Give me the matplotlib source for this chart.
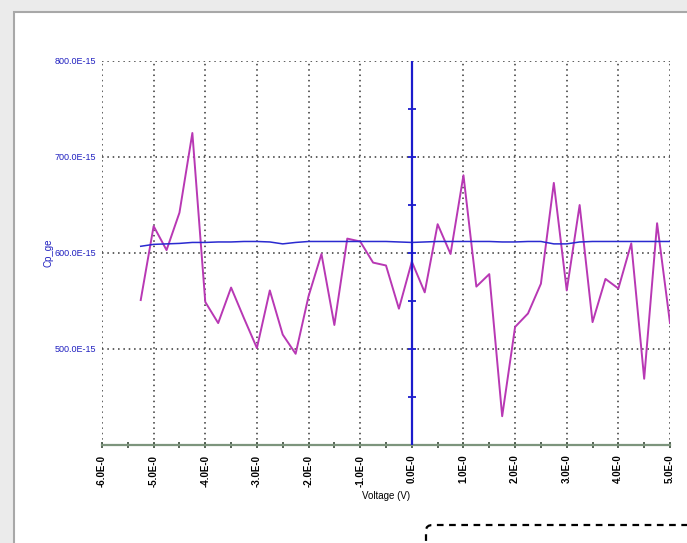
import numpy as np
import matplotlib
matplotlib.use('Agg')
import matplotlib.pyplot as plt
from matplotlib.patches import Rectangle, FancyBboxPatch
from matplotlib.ticker import MultipleLocator, FixedLocator, FuncFormatter

plt.rcParams['font.family'] = ['Liberation Sans', 'DejaVu Sans']

# voltage sweep (V), capacitance in units of 1E-15 F
volt = [-5.25, -5.0, -4.75, -4.5, -4.25, -4.0, -3.75, -3.5, -3.25, -3.0,
        -2.75, -2.5, -2.25, -2.0, -1.75, -1.5, -1.25, -1.0, -0.75, -0.5,
        -0.25, 0.0, 0.25, 0.5, 0.75, 1.0, 1.25, 1.5, 1.75, 2.0,
        2.25, 2.5, 2.75, 3.0, 3.25, 3.5, 3.75, 4.0, 4.25, 4.5,
        4.75, 5.0]
cp_meas = [551, 628, 603, 642, 725, 549, 527, 564, 532, 501,
           561, 515, 495, 555, 599, 525, 615, 612, 590, 587,
           542, 591, 559, 630, 599, 681, 565, 578, 430, 523,
           537, 568, 673, 561, 650, 528, 573, 563, 610, 469,
           631, 527]
cp_sim = [607, 609, 609.5, 610, 611, 611, 611.5, 611.5, 612, 612,
          611.5, 609.5, 611, 612, 612, 612, 612, 612, 612, 612,
          611.5, 611, 611.5, 612, 612, 612, 612, 612, 611.5, 611.5,
          612, 612, 609.5, 609.5, 611.5, 612, 612, 612, 612, 612,
          612, 612]

xticks = [-6, -5, -4, -3, -2, -1, 0, 1, 2, 3, 4, 5]
yticks = [500, 600, 700, 800]

fig = plt.figure(figsize=(6.87, 5.43), dpi=100)
fig.patch.set_facecolor('#ebebeb')
# white panel of the window
fig.patches.append(Rectangle((14 / 687, -0.01), 1.0, 1 - 12 / 543 + 0.01,
                             transform=fig.transFigure, facecolor='white',
                             edgecolor='#a8a8a8', lw=1.5, zorder=-2))
# dashed box at bottom
fig.patches.append(FancyBboxPatch((426 / 687, -0.1), 0.5, 0.1 + 1 - 525 / 543,
                                  boxstyle='round,pad=0,rounding_size=0.01',
                                  transform=fig.transFigure, facecolor='none',
                                  edgecolor='black', lw=1.6, ls=(0, (3, 2.5)),
                                  zorder=-1))

ax = fig.add_axes([102 / 687, 1 - 445 / 543, 568 / 687, 384 / 543])
ax.set_facecolor('none')

ax.plot(volt, cp_meas, color='#b838b4', lw=1.4, zorder=3)
ax.plot(volt, cp_sim, color='#2a2ad0', lw=1.1, zorder=3)

# vertical blue axis at 0 V
ax.axvline(0, color='#1c1ccc', lw=1.6, zorder=4)
ax.plot([0] * 7, [450, 500, 550, 600, 650, 700, 750], ls='none', marker='_',
        ms=6, mew=1.3, color='#1c1ccc', zorder=4)

ax.set_xlim(-6, 5)
ax.set_ylim(400, 800)
ax.xaxis.set_major_locator(FixedLocator(xticks))
ax.xaxis.set_minor_locator(MultipleLocator(0.5))
ax.yaxis.set_major_locator(FixedLocator(yticks))
ax.xaxis.set_major_formatter(FuncFormatter(lambda v, p: '%.1fE-0' % v))
ax.yaxis.set_major_formatter(FuncFormatter(lambda v, p: '%.1fE-15' % v))

ax.grid(True, which='major', color='#333333', ls=(0, (1, 2.5)), lw=1.1)

for s in ['top', 'right', 'left']:
    ax.spines[s].set_visible(False)
ax.spines['bottom'].set_color('#7d957d')
ax.spines['bottom'].set_linewidth(1.6)

ax.tick_params(axis='x', which='both', direction='inout', length=4, width=1.2,
               color='#3a4a3a', labelsize=7, labelrotation=90, pad=5)
ax.tick_params(axis='y', which='both', length=0, labelsize=6.5,
               labelcolor='#2020c0', pad=4)
for lab in ax.get_xticklabels():
    lab.set_fontweight('bold')

ax.set_xlabel('Voltage (V)', fontsize=7, labelpad=3)
ax.set_ylabel('Cp_ge', fontsize=7, color='#2020c0', labelpad=1)

fig.savefig('out.png', dpi=100, facecolor=fig.get_facecolor())
